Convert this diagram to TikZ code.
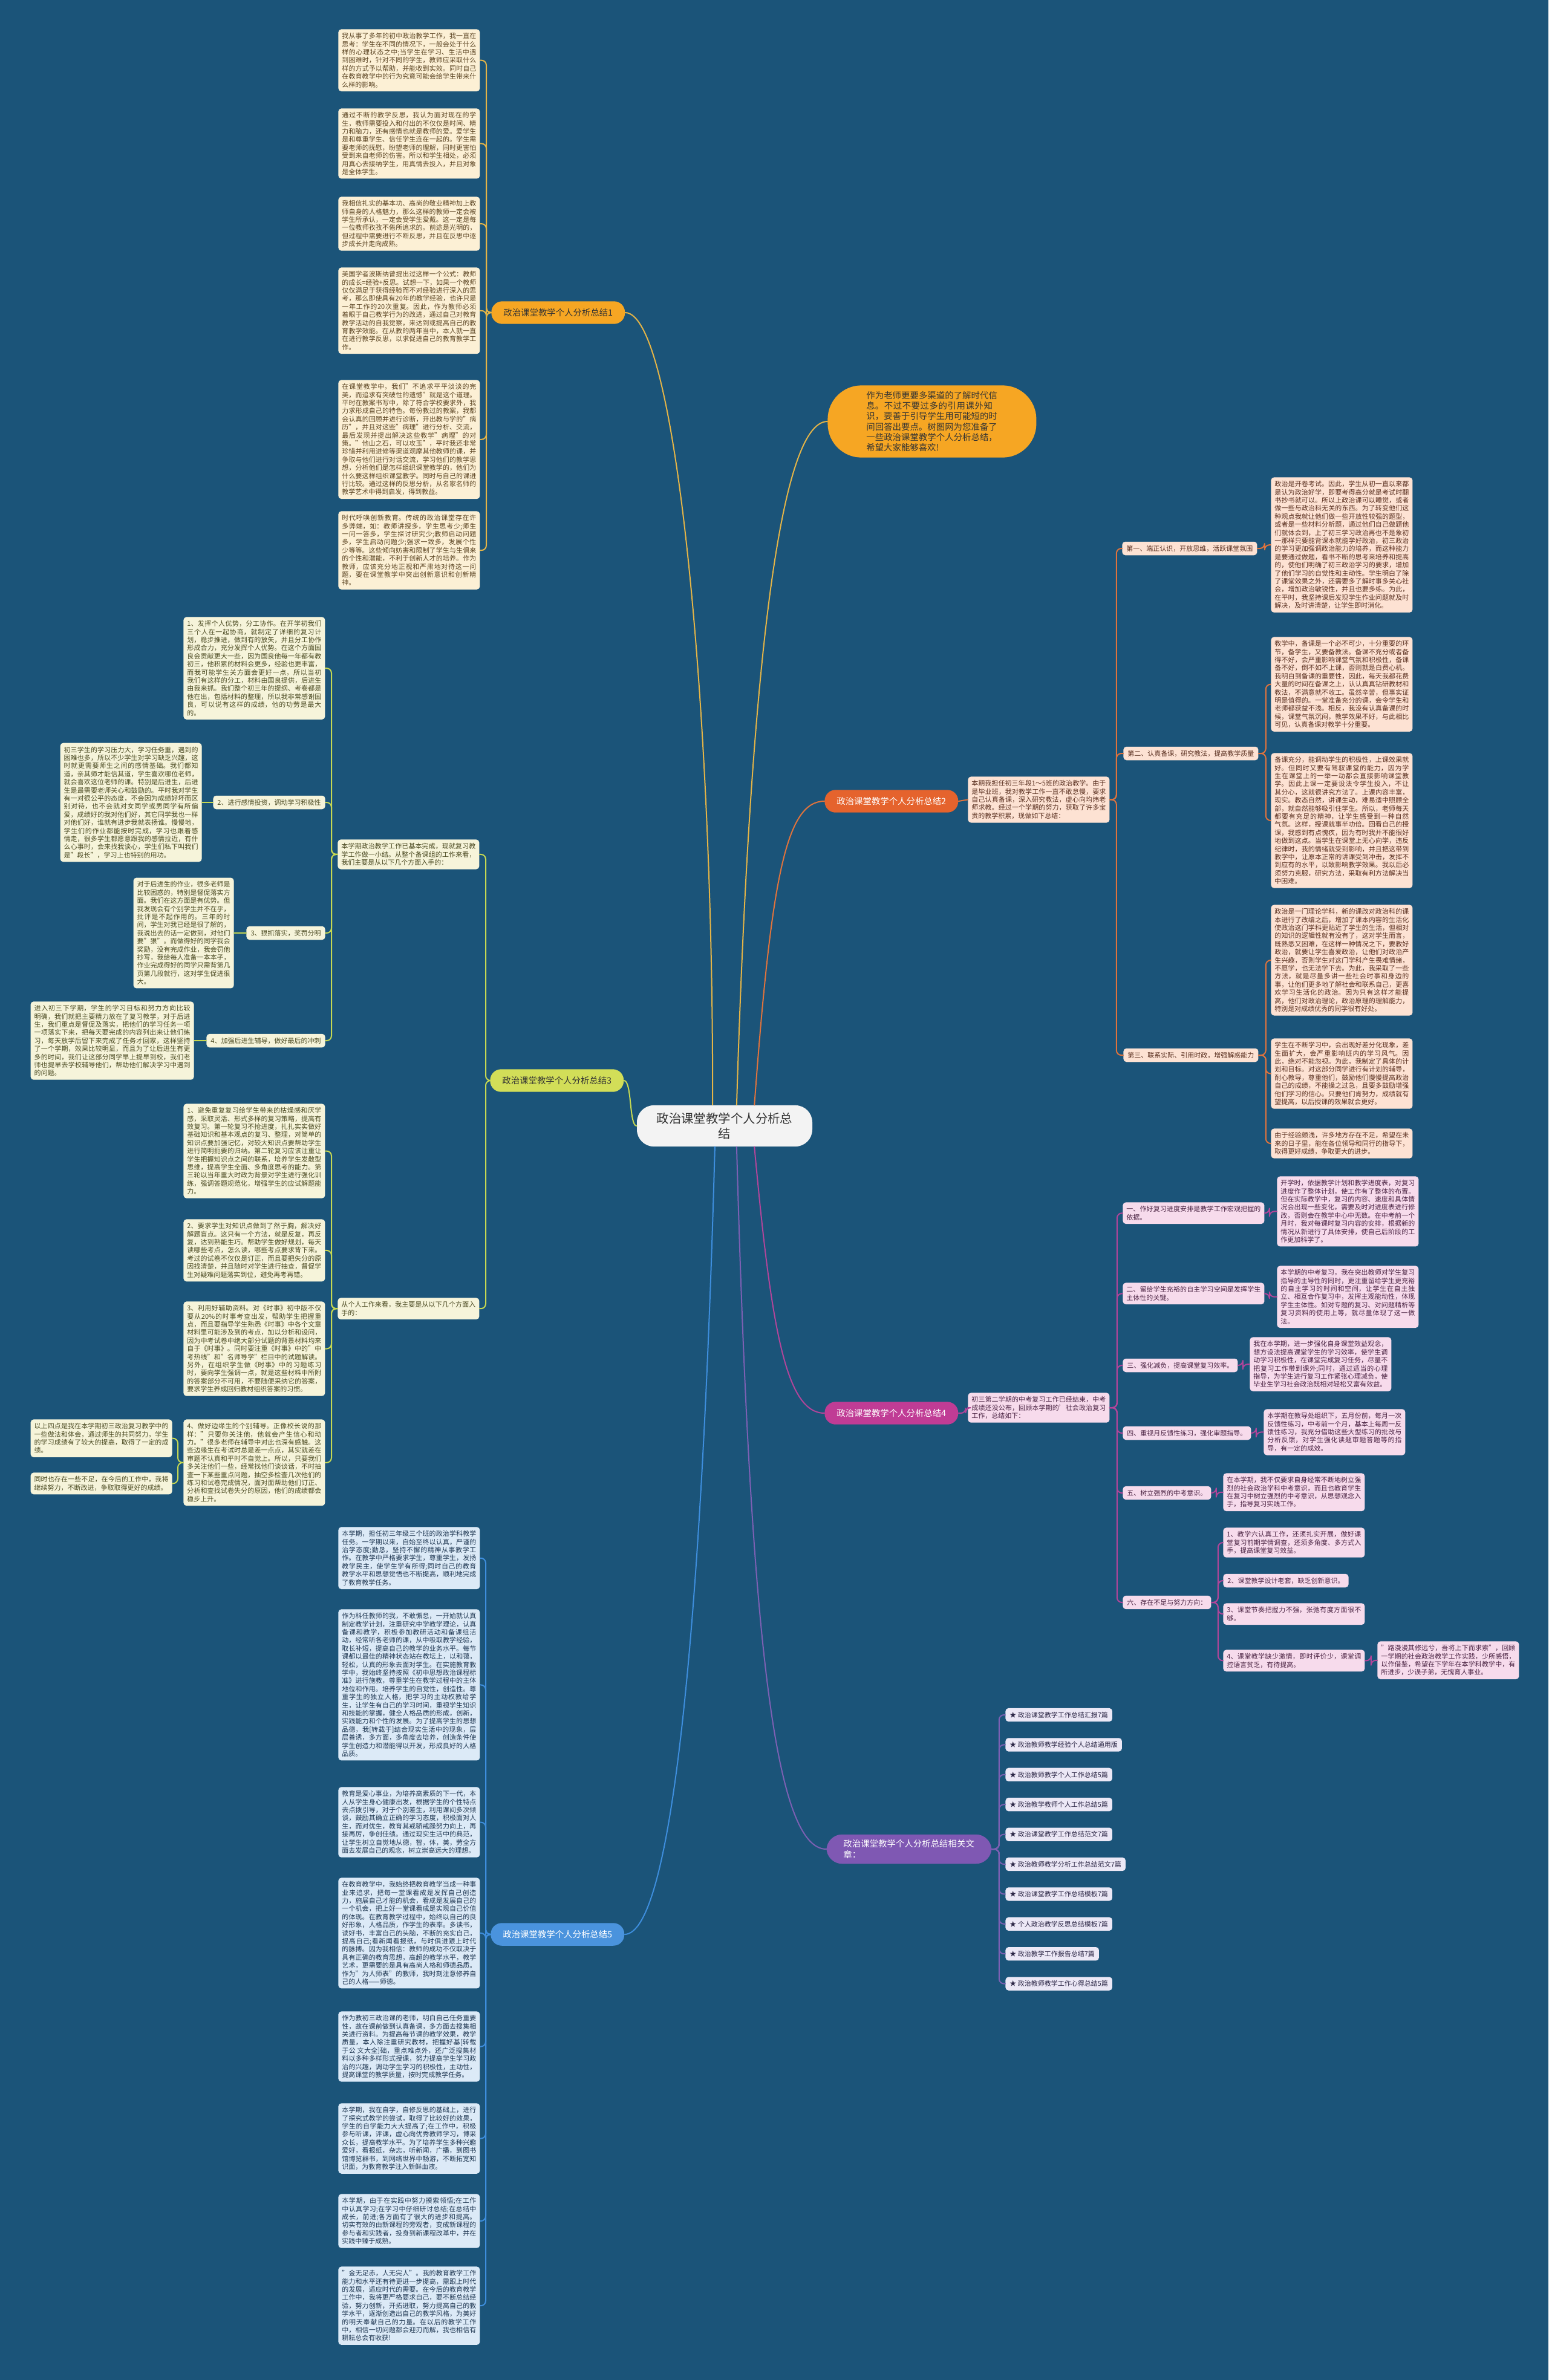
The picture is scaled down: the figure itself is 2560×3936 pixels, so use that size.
\documentclass[tikz,border=0pt]{standalone}
\usepackage{fontspec}
\setmainfont{Noto Sans CJK SC}
\usepackage{tikz}
\usetikzlibrary{positioning}
\XeTeXlinebreaklocale "zh"
\XeTeXlinebreakskip = 0pt plus 1pt
\definecolor{mapBg}{HTML}{1B5479}
\definecolor{rootFill}{HTML}{F3F3F3}
\definecolor{rootInk}{HTML}{333333}
\definecolor{lnA}{HTML}{E4B447}\definecolor{lblA}{HTML}{F6A623}\definecolor{boxA}{HTML}{FCF0D5}\definecolor{inkA}{HTML}{5B4422}
\definecolor{lnB}{HTML}{E0733C}\definecolor{lblB}{HTML}{E5632D}\definecolor{boxB}{HTML}{FDE2D3}\definecolor{inkB}{HTML}{5A3020}
\definecolor{lnC}{HTML}{C6D852}\definecolor{lblC}{HTML}{D2DE58}\definecolor{boxC}{HTML}{F6F4DA}\definecolor{inkC}{HTML}{4B4A22}
\definecolor{lnD}{HTML}{B2459A}\definecolor{lblD}{HTML}{C03C95}\definecolor{boxD}{HTML}{F7DBEC}\definecolor{inkD}{HTML}{4A2342}
\definecolor{lnE}{HTML}{3E8EDD}\definecolor{lblE}{HTML}{4A93DD}\definecolor{boxE}{HTML}{DCEAF7}\definecolor{inkE}{HTML}{1F3752}
\definecolor{lnF}{HTML}{7C60B3}\definecolor{lblF}{HTML}{7F58B3}\definecolor{boxF}{HTML}{ECE8F6}\definecolor{inkF}{HTML}{2B2645}
\newcommand{\fsmall}{\fontsize{5.5}{6.7}\selectfont}
\newcommand{\fmid}{\fontsize{7.2}{8.6}\selectfont}
\newcommand{\fbig}{\fontsize{10.2}{12.6}\selectfont}
\tikzset{
  parabox/.style={rounded corners=2.5pt, align=justify, text width=111pt,
                  inner xsep=3pt, inner ysep=3pt, font=\fsmall},
  tagbox/.style={rounded corners=2.5pt, inner xsep=3.5pt, inner ysep=3pt, font=\fsmall},
  hub/.style={rounded corners=9pt, inner xsep=10pt, inner ysep=6pt, font=\fmid},
  pA/.style={parabox, fill=boxA, text=inkA}, tA/.style={tagbox, fill=boxA, text=inkA},
  pB/.style={parabox, fill=boxB, text=inkB}, tB/.style={tagbox, fill=boxB, text=inkB},
  pC/.style={parabox, fill=boxC, text=inkC}, tC/.style={tagbox, fill=boxC, text=inkC},
  pD/.style={parabox, fill=boxD, text=inkD}, tD/.style={tagbox, fill=boxD, text=inkD},
  pE/.style={parabox, fill=boxE, text=inkE},
  tF/.style={tagbox, fill=boxF, text=inkF},
  link/.style={line width=1pt, rounded corners=4pt},
}

\begin{document}
\begin{tikzpicture}[x=0.5pt, y=-0.5pt, line cap=round, line join=round]
    \useasboundingbox (0,0) rectangle (2560,3936);
    \fill[mapBg] (0,0) rectangle (2560,3936);

    % ── centre and intro bubble ───────────────────────────────────────────
    \node[fill=rootFill, text=rootInk, rounded corners=14pt, font=\fbig, align=center,
          text width=113pt, inner xsep=16pt, inner ysep=6pt] (root) at (1198,1862)
      {政治课堂教学个人分析总\\结};
    \node[fill=lblA, text=black!80, rounded corners=28pt, font=\fmid, align=left,
          text width=108.5pt, inner xsep=32pt, inner ysep=5pt, anchor=west] (intro) at (1368,697)
      {作为老师更要多渠道的了解时代信息。不过不要过多的引用课外知识，要善于引导学生用可能短的时间回答出要点。树图网为您准备了一些政治课堂教学个人分析总结，希望大家能够喜欢!};

    % ── branch 1 ──────────────────────────────────────────────────────────
    \node[hub, fill=lblA, text=black!80, anchor=west] (s1) at (812,517) {政治课堂教学个人分析总结1};
    \node[pA, anchor=north west] (s1p1) at (559,48)
      {我从事了多年的初中政治教学工作，我一直在思考：学生在不同的情况下，一般会处于什么样的心理状态之中;当学生在学习、生活中遇到困难时，针对不同的学生，教师应采取什么样的方式予以帮助，并能收到实效。同时自己在教育教学中的行为究竟可能会给学生带来什么样的影响。};
    \node[pA, anchor=north west] (s1p2) at (559,179)
      {通过不断的教学反思，我认为面对现在的学生，教师需要投入和付出的不仅仅是时间、精力和脑力，还有感情也就是教师的爱。爱学生是和尊重学生、信任学生连在一起的。学生需要老师的抚慰，盼望老师的理解，同时更害怕受到来自老师的伤害。所以和学生相处，必须用真心去接纳学生，用真情去投入，并且对象是全体学生。};
    \node[pA, anchor=north west] (s1p3) at (559,325)
      {我相信扎实的基本功、高尚的敬业精神加上教师自身的人格魅力，那么这样的教师一定会被学生所承认，一定会受学生爱戴。这一定是每一位教师孜孜不倦所追求的。前途是光明的，但过程中需要进行不断反思，并且在反思中逐步成长并走向成熟。};
    \node[pA, anchor=north west] (s1p4) at (559,442)
      {美国学者波斯纳曾提出过这样一个公式：教师的成长=经验+反思。试想一下，如果一个教师仅仅满足于获得经验而不对经验进行深入的思考，那么即使具有20年的教学经验，也许只是一年工作的20次重复。因此，作为教师必须着眼于自己教学行为的改进，通过自己对教育教学活动的自我觉察，来达到或提高自己的教育教学效能。在从教的两年当中，本人就一直在进行教学反思，以求促进自己的教育教学工作。};
    \node[pA, anchor=north west] (s1p5) at (559,628)
      {在课堂教学中，我们"不追求平平淡淡的完美，而追求有突破性的遗憾"就是这个道理。平时在教案书写中，除了符合学校要求外，我力求形成自己的特色。每份教过的教案，我都会认真的回顾并进行诊断，开出教与学的"病历"，并且对这些"病理"进行分析、交流，最后发现并提出解决这些教学"病理"的对策。"他山之石，可以攻玉"，平时我还非常珍惜并利用进修等渠道观摩其他教师的课，并争取与他们进行对话交流，学习他们的教学思想，分析他们是怎样组织课堂教学的，他们为什么要这样组织课堂教学。同时与自己的课进行比较。通过这样的反思分析，从名家名师的教学艺术中得到启发，得到教益。};
    \node[pA, anchor=north west] (s1p6) at (559,845)
      {时代呼唤创新教育。传统的政治课堂存在许多弊端，如：教师讲授多，学生思考少;师生一问一答多，学生探讨研究少;教师启动问题多，学生启动问题少;强求一致多，发展个性少等等。这些倾向妨害和限制了学生与生俱来的个性和潜能，不利于创新人才的培养。作为教师，应该充分地正视和严肃地对待这一问题，要在课堂教学中突出创新意识和创新精神。};
    \foreach \c in {s1p1,s1p2,s1p3,s1p4,s1p5,s1p6}
      \draw[lnA, link] (s1.west) -- ++(-8,0) |- (\c.east);

    % ── branch 2 ──────────────────────────────────────────────────────────
    \node[hub, fill=lblB, text=white, anchor=west] (s2) at (1363,1325) {政治课堂教学个人分析总结2};
    \node[pB, anchor=north west] (s2in) at (1600,1284)
      {本期我担任初三年段1～5班的政治教学。由于是毕业班，我对教学工作一直不敢怠慢，要求自己认真备课，深入研究教法，虚心向均炜老师求教。经过一个学期的努力，获取了许多宝贵的教学积累，现做如下总结：};
    \node[tB, anchor=west] (s2a) at (1855,907) {第一、端正认识，开放思维，活跃课堂氛围};
    \node[tB, anchor=west] (s2b) at (1857,1246) {第二、认真备课，研究教法，提高教学质量};
    \node[tB, anchor=west] (s2c) at (1857,1745) {第三、联系实际、引用时政，增强解惑能力};
    \node[pB, anchor=north west] (s2a1) at (2101,789)
      {政治是开卷考试。因此，学生从初一直以来都是认为政治好学，即要考得高分就是考试时翻书抄书就可以。所以上政治课可以睡觉，或者做一些与政治科无关的东西。为了转变他们这种观点我就让他们做一些开放性较强的题型，或者是一些材料分析题，通过他们自己做题他们就体会到，上了初三学习政治再也不是象初一那样只要能背课本就能学好政治，初三政治的学习更加强调政治能力的培养，而这种能力是要通过做题，看书不断的思考来培养和提高的，使他们明确了初三政治学习的要求，增加了他们学习的自觉性和主动性。学生明白了除了课堂效果之外，还需要多了解时事多关心社会，增加政治敏锐性，并且也要多练。为此，在平时，我坚持课后发现学生作业问题就及时解决，及时讲清楚，让学生即时消化。};
    \node[pB, anchor=north west] (s2b1) at (2101,1053)
      {教学中，备课是一个必不可少，十分重要的环节，备学生，又要备教法。备课不充分或者备得不好，会严重影响课堂气氛和积极性，备课备不好，倒不如不上课，否则就是白费心机。我明白到备课的重要性，因此，每天我都花费大量的时间在备课之上，认认真真钻研教材和教法，不满意就不收工。虽然辛苦，但事实证明是值得的。一堂准备充分的课，会令学生和老师都获益不浅。相反，我没有认真备课的时候，课堂气氛沉闷，教学效果不好，与此相比可见，认真备课对教学十分重要。};
    \node[pB, anchor=north west] (s2b2) at (2101,1245)
      {备课充分，能调动学生的积极性，上课效果就好。但同时又要有驾驭课堂的能力，因为学生在课堂上的一举一动都会直接影响课堂教学。因此上课一定要设法令学生投入，不让其分心，这就很讲究方法了。上课内容丰富，现实。教态自然，讲课生动，难易适中照顾全部，就自然能够吸引住学生。所以，老师每天都要有充足的精神，让学生感受到一种自然气氛。这样，授课就事半功倍。回看自己的授课，我感到有点愧疚，因为有时我并不能很好地做到这点。当学生在课堂上无心向学，违反纪律时，我的情绪就受到影响，并且把这带到教学中，让原本正常的讲课受到冲击，发挥不到应有的水平，以致影响教学效果。我以后必须努力克服，研究方法，采取有利方法解决当中困难。};
    \node[pB, anchor=north west] (s2c1) at (2101,1496)
      {政治是一门理论学科，新的课改对政治科的课本进行了改编之后，增加了课本内容的生活化使政治这门学科更贴近了学生的生活，但相对的知识的逻辑性就有没有了，这对学生而言，既熟悉又困难，在这样一种情况之下，要教好政治，就要让学生喜爱政治，让他们对政治产生兴趣，否则学生对这门学科产生畏难情绪，不愿学，也无法学下去。为此，我采取了一些方法，就是尽量多讲一些社会时事和身边的事，让他们更多地了解社会和联系自己，更喜欢学习生活化的政治。因为只有这样才能提高，他们对政治理论，政治原理的理解能力，特别是对成绩优秀的同学很有好处。};
    \node[pB, anchor=north west] (s2c2) at (2101,1717)
      {学生在不断学习中，会出现好差分化现象，差生面扩大，会严重影响班内的学习风气。因此，绝对不能忽视。为此，我制定了具体的计划和目标。对这部分同学进行有计划的辅导，耐心教导，尊重他们，鼓励他们慢慢提高政治自己的成绩，不能操之过急，且要多鼓励增强他们学习的信心。只要他们肯努力，成绩就有望提高，以后授课的效果就会更好。};
    \node[pB, anchor=north west] (s2c3) at (2101,1866)
      {由于经验颇浅，许多地方存在不足，希望在未来的日子里，能在各位领导和同行的指导下，取得更好成绩，争取更大的进步。};
    \draw[lnB, link] (s2.east) -- (s2in.west);
    \foreach \c in {s2a,s2b,s2c}
      \draw[lnB, link] (s2in.east) -- ++(11,0) |- (\c.west);
    \draw[lnB, link] (s2a.east) -- ++(12,0) |- (s2a1.west);
    \foreach \c in {s2b1,s2b2}
      \draw[lnB, link] (s2b.east) -- ++(12,0) |- (\c.west);
    \foreach \c in {s2c1,s2c2,s2c3}
      \draw[lnB, link] (s2c.east) -- ++(12,0) |- (\c.west);

    % ── branch 3 ──────────────────────────────────────────────────────────
    \node[hub, fill=lblC, text=black!80, anchor=west] (s3) at (810,1787) {政治课堂教学个人分析总结3};
    \node[pC, anchor=north west] (s3ia) at (558,1388)
      {本学期政治教学工作已基本完成，现就复习教学工作做一小结。从整个备课组的工作来看，我们主要是从以下几个方面入手的：};
    \node[pC, anchor=north west] (s3ib) at (558,2146)
      {从个人工作来看，我主要是从以下几个方面入手的：};
    \node[pC, anchor=north west] (s3a1) at (303,1020)
      {1、发挥个人优势，分工协作。在开学初我们三个人在一起协商，就制定了详细的复习计划，稳步推进，做到有的放矢，并且分工协作形成合力，充分发挥个人优势。在这个方面国良会贡献更大一些，因为国良他每一年都有教初三，他积累的材料会更多，经验也更丰富，而我可能学生关方面会更好一点，所以当初我们有这样的分工，材料由国良提供，后进生由我来抓。我们整个初三年的提纲、考卷都是他在出，包括材料的整理，所以我非常感谢国良，可以说有这样的成绩，他的功劳是最大的。};
    \node[tC, anchor=east] (s3a2) at (538,1327) {2、进行感情投资，调动学习积极性};
    \node[tC, anchor=east] (s3a3) at (538,1543) {3、狠抓落实，奖罚分明};
    \node[tC, anchor=east] (s3a4) at (538,1721) {4、加强后进生辅导，做好最后的冲刺};
    \node[pC, anchor=east] (s3a2t) at (334,1327)
      {初三学生的学习压力大，学习任务重，遇到的困难也多，所以不少学生对学习缺乏兴趣，这时就更需要师生之间的感情基础。我们都知道，亲其师才能信其道，学生喜欢哪位老师，就会喜欢这位老师的课。特别是后进生，后进生是最需要老师关心和鼓励的。平时我对学生有一对很公平的态度，不会因为成绩好坏而区别对待，也不会就对女同学或男同学有所偏爱，成绩好的我对他们好，其它同学我也一样对他们好，谁就有进步我就表扬谁。慢慢地，学生们的作业都能按时完成，学习也跟着感情走，很多学生都愿意跟我的感情拉近，有什么心事时，会来找我谈心，学生们私下叫我们是"段长"，学习上也特别的用功。};
    \node[pC, anchor=east, text width=77pt] (s3a3t) at (387,1543)
      {对于后进生的作业，很多老师是比较困惑的，特别是督促落实方面。我们在这方面是有优势。但我发现会有个别学生并不在乎，批评是不起作用的。三年的时间，学生对我已经是很了解的，我说出去的话一定做到，对他们要"狠"。而做得好的同学我会奖励，没有完成作业，我会罚他抄写，我给每人准备一本本子，作业完成得好的同学只需背第几页第几段就行，这对学生促进很大。};
    \node[pC, anchor=east, text width=129pt] (s3a4t) at (321,1721)
      {进入初三下学期，学生的学习目标和努力方向比较明确，我们就把主要精力放在了复习教学，对于后进生，我们重点是督促及落实，把他们的学习任务一项一项落实下来，把每天要完成的内容列出来让他们练习，每天放学后留下来完成了任务才回家，这样坚持了一个学期，效果比较明显，而且为了让后进生有更多的时间，我们让这部分同学早上提早到校，我们老师也提早去学校辅导他们，帮助他们解决学习中遇到的问题。};
    \node[pC, anchor=north west] (s3b1) at (303,1825)
      {1、避免重复复习给学生带来的枯燥感和厌学感，采取灵活、形式多样的复习策略，提高有效复习。第一轮复习不抢进度，扎扎实实做好基础知识和基本观点的复习、整理，对简单的知识点要加强记忆，对较大知识点要帮助学生进行简明扼要的归纳。第二轮复习应该注重让学生把握知识点之间的联系，培养学生发散型思维，提高学生全面、多角度思考的能力。第三轮以当年重大时政为背景对学生进行强化训练，强调答题规范化，增强学生的应试解题能力。};
    \node[pC, anchor=north west] (s3b2) at (303,2016)
      {2、要求学生对知识点做到了然于胸，解决好解题盲点。这只有一个方法，就是反复，再反复，达到熟能生巧。帮助学生做好规划，每天读哪些考点，怎么读，哪些考点要求背下来。考过的试卷不仅仅是订正，而且要把失分的原因找清楚，并且随时对学生进行抽查，督促学生对疑难问题落实到位，避免再考再错。};
    \node[pC, anchor=north west] (s3b3) at (303,2152)
      {3、利用好辅助资料。对《时事》初中版不仅要从20\%的时事考查出发，帮助学生把握重点，而且要指导学生熟悉《时事》中各个文章材料里可能涉及到的考点，加以分析和设问，因为中考试卷中绝大部分试题的背景材料均来自于《时事》。同时要注重《时事》中的"中考热线"和"名师导学"栏目中的试题解读。另外，在组织学生做《时事》中的习题练习时，要向学生强调一点，就是这些材料中所附的答案部分不可用，不要随便采纳它的答案，要求学生养成回归教材组织答案的习惯。};
    \node[pC, anchor=north west] (s3b4) at (303,2347)
      {4、做好边缘生的个别辅导。正像校长说的那样："只要你关注他，他就会产生信心和动力。"很多老师在辅导中对此也深有感触。这些边缘生在考试时总是差一点点，其实就差在审题不认真和平时不自觉上。所以，只要我们多关注他们一些，经常找他们谈谈话，不时抽查一下某些重点问题，抽空多检查几次他们的练习和试卷完成情况，面对面帮助他们订正、分析和查找试卷失分的原因，他们的成绩都会稳步上升。};
    \node[pC, anchor=north east] (s3b4t1) at (285,2347)
      {以上四点是我在本学期初三政治复习教学中的一些做法和体会，通过师生的共同努力，学生的学习成绩有了较大的提高，取得了一定的成绩。};
    \node[pC, anchor=north east] (s3b4t2) at (285,2435)
      {同时也存在一些不足，在今后的工作中，我将继续努力，不断改进，争取取得更好的成绩。};
    \foreach \c in {s3ia,s3ib}
      \draw[lnC, link] (s3.west) -- ++(-7,0) |- (\c.east);
    \foreach \c in {s3a1,s3a2,s3a3,s3a4}
      \draw[lnC, link] (s3ia.west) -- ++(-10,0) |- (\c.east);
    \foreach \c in {s3b1,s3b2,s3b3,s3b4}
      \draw[lnC, link] (s3ib.west) -- ++(-10,0) |- (\c.east);
    \draw[lnC, link] (s3a2.west) -- (s3a2t.east);
    \draw[lnC, link] (s3a3.west) -- (s3a3t.east);
    \draw[lnC, link] (s3a4.west) -- (s3a4t.east);
    \foreach \c in {s3b4t1,s3b4t2}
      \draw[lnC, link] (s3b4.west) -- ++(-9,0) |- (\c.east);

    % ── branch 4 ──────────────────────────────────────────────────────────
    \node[hub, fill=lblD, text=white, anchor=west] (s4) at (1363,2337) {政治课堂教学个人分析总结4};
    \node[pD, anchor=north west] (s4in) at (1600,2303)
      {初三第二学期的中考复习工作已经结束，中考成绩还没公布，回顾本学期的'社会政治复习工作，总结如下：};
    \node[pD, anchor=north west] (s4a) at (1856,1988) {一、作好复习进度安排是教学工作宏观把握的依据。};
    \node[pD, anchor=north west] (s4b) at (1856,2121) {二、留给学生充裕的自主学习空间是发挥学生主体性的关键。};
    \node[tD, anchor=west] (s4c) at (1856,2258) {三、强化减负，提高课堂复习效率。};
    \node[tD, anchor=west] (s4d) at (1856,2370) {四、重视月反馈性练习，强化审题指导。};
    \node[tD, anchor=west] (s4e) at (1856,2469) {五、树立强烈的中考意识。};
    \node[tD, anchor=west] (s4f) at (1856,2650) {六、存在不足与努力方向：};
    \node[pD, anchor=north west] (s4at) at (2111,1945)
      {开学时，依据教学计划和教学进度表，对复习进度作了整体计划，使工作有了整体的布置。但在实际教学中，复习的内容、速度和具体情况会出现一些变化，需要及时对进度表进行修改，否则会在教学中心中无数。在中考前一个月时，我对每课时复习内容的安排，根据新的情况从新进行了具体安排，使自己后阶段的工作更加科学了。};
    \node[pD, anchor=north west] (s4bt) at (2111,2093)
      {本学期的中考复习，我在突出教师对学生复习指导的主导性的同时，更注重留给学生更充裕的自主学习的时间和空间，让学生在自主独立、相互合作复习中，发挥主观能动性，体现学生主体性。如对专题的复习、对问题精析等复习资料的使用上等，就尽量体现了这一做法。};
    \node[pD, anchor=north west] (s4ct) at (2066,2211)
      {我在本学期，进一步强化自身课堂效益观念，想方设法提高课堂学生的学习效率，使学生调动学习积极性，在课堂完成复习任务，尽量不把复习工作带到课外;同时，通过适当的心理指导，为学生进行复习工作紧张心理减负，使毕业生学习社会政治既相对轻松又富有效益。};
    \node[pD, anchor=north west] (s4dt) at (2089,2330)
      {本学期在教导处组织下，五月份前，每月一次反馈性练习，中考前一个月，基本上每周一反馈性练习，我充分借助这些大型练习的批改与分析反馈，对学生强化读题审题答题等的指导，有一定的成效。};
    \node[pD, anchor=north west] (s4et) at (2022,2436)
      {在本学期，我不仅要求自身经常不断地树立强烈的社会政治学科中考意识，而且也教育学生在复习中树立强烈的中考意识，从思想观念入手，指导复习实践工作。};
    \node[pD, anchor=north west] (s4f1) at (2022,2526)
      {1、教学六认真工作，还须扎实开展，做好课堂复习前期学情调查，还须多角度、多方式入手，提高课堂复习效益。};
    \node[tD, anchor=west] (s4f2) at (2022,2614) {2、课堂教学设计老套，缺乏创新意识。};
    \node[pD, anchor=north west] (s4f3) at (2022,2651) {3、课堂节奏把握力不强，张弛有度方面很不够。};
    \node[pD, anchor=north west] (s4f4) at (2022,2728) {4、课堂教学缺少激情，即时评价少，课堂调控语言贫乏，有待提高。};
    \node[pD, anchor=north west] (s4f4t) at (2277,2714)
      {"路漫漫其修远兮，吾将上下而求索"，回顾一学期的社会政治教学工作实践，少所感悟，以作借鉴，希望在下学年在本学科教学中，有所进步，少误子弟，无愧育人事业。};
    \draw[lnD, link] (s4.east) -- ++(12,0) |- (s4in.west);
    \foreach \c in {s4a,s4b,s4c,s4d,s4e,s4f}
      \draw[lnD, link] (s4in.east) -- ++(12,0) |- (\c.west);
    \foreach \p in {a,b,c,d,e}
      \draw[lnD, link] (s4\p.east) -- ++(8,0) |- (s4\p t.west);
    \foreach \c in {s4f1,s4f2,s4f3,s4f4}
      \draw[lnD, link] (s4f.east) -- ++(11,0) |- (\c.west);
    \draw[lnD, link] (s4f4.east) -- ++(10,0) |- (s4f4t.west);

    % ── related articles ──────────────────────────────────────────────────
    \node[fill=lblF, text=white, rounded corners=13pt, font=\fmid, align=left,
          text width=108.5pt, inner xsep=14pt, inner ysep=4.5pt, anchor=west] (rel) at (1366,3058)
      {政治课堂教学个人分析总结相关文章：};
    \foreach \t [count=\i] in {政治课堂教学工作总结汇报7篇, 政治教师教学经验个人总结通用版,
        政治教师教学个人工作总结5篇, 政治教学教师个人工作总结5篇, 政治课堂教学工作总结范文7篇,
        政治教师教学分析工作总结范文7篇, 政治课堂教学工作总结模板7篇, 个人政治教学反思总结模板7篇,
        政治教学工作报告总结7篇, 政治教师教学工作心得总结5篇}
      \node[tF, anchor=west] (rel\i) at (1662,{2836+49.4*(\i-1)}) {★ \t};
    \foreach \i in {1,...,10}
      \draw[lnF, link] (rel.east) -- ++(12,0) |- (rel\i.west);

    % ── branch 5 ──────────────────────────────────────────────────────────
    \node[hub, fill=lblE, text=white, anchor=west] (s5) at (811,3199) {政治课堂教学个人分析总结5};
    \node[pE, anchor=north west] (s5p1) at (559,2525)
      {本学期，担任初三年级三个班的政治学科教学任务。一学期以来，自始至终以认真，严谨的治学态度;勤恳，坚持不懈的精神从事教学工作。在教学中严格要求学生，尊重学生，发扬教学民主，使学生学有所得;同时自己的教育教学水平和思想觉悟也不断提高，顺利地完成了教育教学任务。};
    \node[pE, anchor=north west] (s5p2) at (559,2661)
      {作为科任教师的我，不敢懈怠，一开始就认真制定教学计划，注重研究中学教学理论，认真备课和教学，积极参加教研活动和备课组活动，经常听各老师的课，从中吸取教学经验，取长补短，提高自己的教学的业务水平。每节课都以最佳的精神状态站在教坛上，以和蔼，轻松，认真的形象去面对学生。在实施教育教学中，我始终坚持按照《初中思想政治课程标准》进行施教，尊重学生在教学过程中的主体地位和作用。培养学生的自觉性，创造性。尊重学生的独立人格，把学习的主动权教给学生，让学生有自己的学习时间，重视学生知识和技能的掌握，健全人格品质的形成，创新，实践能力和个性的发展。为了提高学生的思想品德，我[转载于]结合现实生活中的现象，层层善诱，多方面，多角度去培养，创造条件使学生创造力和潜能得以开发，形成良好的人格品质。};
    \node[pE, anchor=north west] (s5p3) at (559,2955)
      {教育是爱心事业，为培养高素质的下一代，本人从学生身心健康出发，根据学生的个性特点去点拨引导，对于个别差生，利用课间多次倾谈，鼓励其确立正确的学习态度，积极面对人生，而对优生，教育其戒骄戒躁努力向上，再接再厉，争创佳绩。通过现实生活中的典范，让学生树立自觉地从德，智，体，美，劳全方面去发展自己的观念，树立崇高远大的理想。};
    \node[pE, anchor=north west] (s5p4) at (559,3105)
      {在教育教学中，我始终把教育教学当成一种事业来追求，把每一堂课看成是发挥自己创造力，施展自己才能的机会，看成是发展自己的一个机会，把上好一堂课看成是实现自己价值的体现。在教育教学过程中，始终以自己的良好形象，人格品质，作学生的表率。多读书，读好书，丰富自己的头脑，不断的充实自己，提高自己;看新闻看报纸，与时俱进跟上时代的脉搏。因为我相信：教师的成功不仅取决于具有正确的教育思想，高超的教学水平，教学艺术，更需要的是具有高尚人格和师德品质。作为"为人师表"的教师，我时刻注意修养自己的人格——师德。};
    \node[pE, anchor=north west] (s5p5) at (559,3326)
      {作为教初三政治课的老师，明白自己任务重要性，故在课前做到认真备课，多方面去搜集相关进行资料。为提高每节课的教学效果，教学质量，本人除注重研究教材，把握好基[转载于公 文大全]础，重点难点外，还广泛搜集材料以多种多样形式授课，努力提高学生学习政治的兴趣，调动学生学习的积极性，主动性，提高课堂的教学质量，按时完成教学任务。};
    \node[pE, anchor=north west] (s5p6) at (559,3478)
      {本学期，我在自学，自修反思的基础上，进行了探究式教学的尝试，取得了比较好的效果，学生的自学能力大大提高了;在工作中，积极参与听课，评课，虚心向优秀教师学习，博采众长，提高教学水平。为了培养学生多种兴趣爱好，看报纸，杂志，听新闻，广播，到图书馆博览群书，到网络世界中畅游，不断拓宽知识面，为教育教学注入新鲜血液。};
    \node[pE, anchor=north west] (s5p7) at (559,3628)
      {本学期，由于在实践中努力摸索领悟;在工作中认真学习;在学习中仔细研讨总结;在总结中成长，前进;各方面有了很大的进步和提高。切实有效的由新课程的旁观者，变成新课程的参与者和实践者，投身到新课程改革中，并在实践中臻于成熟。};
    \node[pE, anchor=north west] (s5p8) at (559,3748)
      {"金无足赤，人无完人"。我的教育教学工作能力和水平还有待更进一步提高，需跟上时代的发展，适应时代的需要。在今后的教育教学工作中，我将更严格要求自己，要不断总结经验，努力创新，开拓进取，努力提高自己的教学水平，逐渐创造出自己的教学风格，为美好的明天奉献自己的力量。在以后的教学工作中，相信一切问题都会迎刃而解，我也相信有耕耘总会有收获!};
    \foreach \c in {s5p1,s5p2,s5p3,s5p4,s5p5,s5p6,s5p7,s5p8}
      \draw[lnE, link] (s5.west) -- ++(-8,0) |- (\c.east);

    % ── main branches out of the centre ───────────────────────────────────
    \draw[lnA, line width=1pt] (root.120) .. controls (1180,1200) and (1120,517) .. (s1.east);
    \draw[lnA, line width=1pt] (root.60) .. controls (1240,1100) and (1290,697) .. (intro.west);
    \draw[lnB, line width=1pt] (root.35) .. controls (1275,1450) and (1300,1325) .. (s2.west);
    \draw[lnC, line width=1pt] (root.west) .. controls (1040,1862) and (1045,1787) .. (s3.east);
    \draw[lnD, line width=1pt] (root.-35) .. controls (1275,2200) and (1300,2337) .. (s4.west);
    \draw[lnF, line width=1pt] (root.-60) .. controls (1240,2700) and (1280,3058) .. (rel.west);
    \draw[lnE, line width=1pt] (root.-115) .. controls (1160,2700) and (1110,3199) .. (s5.east);
\end{tikzpicture}
\end{document}
